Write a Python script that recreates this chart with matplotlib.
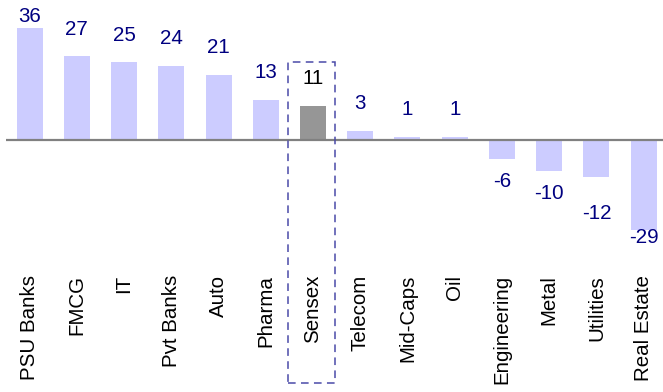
import matplotlib
matplotlib.use('Agg')
import matplotlib.pyplot as plt
from matplotlib.patches import Rectangle

plt.rcParams['font.family'] = ['Liberation Sans', 'DejaVu Sans']

#-------------------------------
# sector returns (%)

sectors = ['PSU Banks', 'FMCG', 'IT', 'Pvt Banks', 'Auto', 'Pharma', 'Sensex',
           'Telecom', 'Mid-Caps', 'Oil', 'Engineering', 'Metal', 'Utilities', 'Real Estate']
returns = [36, 27, 25, 24, 21, 13, 11, 3, 1, 1, -6, -10, -12, -29]
benchmark = 'Sensex'

#-------------------------------
# styling

bar_color = '#ccccff'
bench_color = '#969696'
label_color = '#000080'
box_color = '#4a4aa8'
font_size = 14.8

# label offsets from bar end (data units) and limits so labels stay inside
pos_offset, neg_offset = 8.7, 7.4
label_top, label_bottom = 39.7, -31.3
label_nudge = {'Utilities': -4.3}

fig = plt.figure(figsize=(6.63, 3.92), dpi=100)
ax = fig.add_axes([6 / 663, 1 - 268 / 392, 657 / 663, 268 / 392])

x = list(range(len(sectors)))
colors = [bench_color if s == benchmark else bar_color for s in sectors]
ax.bar(x, returns, width=0.55, color=colors, zorder=2)
ax.axhline(0, color='#808080', linewidth=1.6, zorder=3)

# value labels above / below each bar
for i, (s, v) in enumerate(zip(sectors, returns)):
    if v >= 0:
        y = min(v + pos_offset, label_top)
    else:
        y = max(v - neg_offset, label_bottom)
    y += label_nudge.get(s, 0)
    ax.text(i, y, str(v), ha='center', va='center', fontsize=font_size,
            color='black' if s == benchmark else label_color)

# dashed frame round the benchmark
bi = sectors.index(benchmark)
ax.add_patch(Rectangle((bi - 0.52, -78.4), 0.99, 103.5, fill=False,
                       edgecolor=box_color, linestyle=(0, (5, 3.5)),
                       linewidth=1.1, clip_on=False, zorder=4))

ax.set_xlim(-0.5, 13.41)
ax.set_ylim(-41.3, 45.16)
ax.set_xticks(x)
ax.set_xticklabels(sectors, rotation=90, fontsize=font_size)
ax.tick_params(axis='x', length=0, pad=5)
ax.set_yticks([])
for sp in ax.spines.values():
    sp.set_visible(False)

fig.savefig('out.png', dpi=100)
